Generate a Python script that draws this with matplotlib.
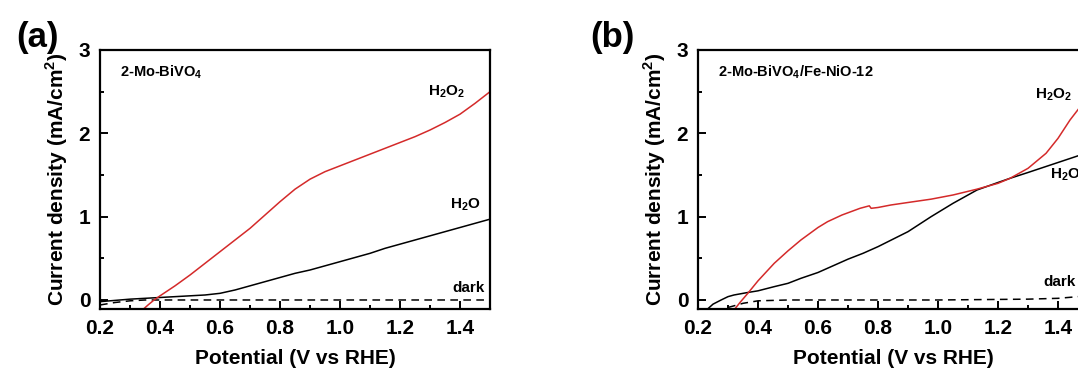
import matplotlib

matplotlib.use("Agg")
import matplotlib.pyplot as plt
from matplotlib.ticker import MultipleLocator

plt.rcParams["font.family"] = ["Liberation Sans", "DejaVu Sans"]
plt.rcParams["font.weight"] = "bold"
plt.rcParams["mathtext.fontset"] = "custom"
plt.rcParams["mathtext.rm"] = "Liberation Sans:bold"
plt.rcParams["mathtext.bf"] = "Liberation Sans:bold"

RED = "#d42a2a"

# Panel (a): 2-Mo-BiVO4
a_h2o2_v = [0.345, 0.36, 0.38, 0.40, 0.45, 0.50, 0.55, 0.60, 0.65, 0.70, 0.75,
            0.80, 0.85, 0.90, 0.95, 1.00, 1.05, 1.10, 1.15, 1.20, 1.25, 1.30,
            1.35, 1.40, 1.45, 1.50]
a_h2o2_j = [-0.108, -0.06, 0.0, 0.05, 0.17, 0.30, 0.44, 0.58, 0.72, 0.86, 1.02,
            1.18, 1.33, 1.45, 1.54, 1.61, 1.68, 1.75, 1.82, 1.89, 1.96, 2.04,
            2.13, 2.23, 2.36, 2.50]
a_h2o_v = [0.20, 0.25, 0.30, 0.35, 0.40, 0.45, 0.50, 0.55, 0.60, 0.65, 0.70,
           0.75, 0.80, 0.85, 0.90, 0.95, 1.00, 1.05, 1.10, 1.15, 1.20, 1.25,
           1.30, 1.35, 1.40, 1.45, 1.50]
a_h2o_j = [-0.02, -0.005, 0.01, 0.02, 0.03, 0.04, 0.05, 0.06, 0.08, 0.12, 0.17,
           0.22, 0.27, 0.32, 0.36, 0.41, 0.46, 0.51, 0.56, 0.62, 0.67, 0.72,
           0.77, 0.82, 0.87, 0.92, 0.97]
a_dark_v = [0.20, 0.25, 0.30, 0.35, 0.50, 1.00, 1.50]
a_dark_j = [-0.06, -0.03, -0.01, 0.0, 0.0, 0.0, 0.0]

# Panel (b): 2-Mo-BiVO4/Fe-NiO-12
b_h2o2_v = [0.32, 0.34, 0.366, 0.40, 0.454, 0.50, 0.543, 0.60, 0.632, 0.68,
            0.71, 0.74, 0.771, 0.777, 0.80, 0.843, 0.90, 0.977, 1.05, 1.13,
            1.20, 1.24, 1.30, 1.36, 1.40, 1.44, 1.47, 1.50]
b_h2o2_j = [-0.12, -0.03, 0.08, 0.23, 0.44, 0.59, 0.72, 0.87, 0.94, 1.02,
            1.06, 1.10, 1.13, 1.10, 1.11, 1.14, 1.17, 1.21, 1.26, 1.33,
            1.40, 1.46, 1.58, 1.76, 1.94, 2.16, 2.30, 2.45]
b_h2o_v = [0.232, 0.25, 0.277, 0.30, 0.32, 0.366, 0.40, 0.454, 0.50, 0.543,
           0.60, 0.65, 0.70, 0.75, 0.80, 0.85, 0.90, 0.977, 1.05, 1.13, 1.20,
           1.24, 1.30, 1.40, 1.50]
b_h2o_j = [-0.108, -0.05, 0.0, 0.04, 0.06, 0.09, 0.11, 0.16, 0.20, 0.26,
           0.33, 0.41, 0.49, 0.56, 0.64, 0.73, 0.82, 1.00, 1.16, 1.32, 1.41,
           1.46, 1.53, 1.65, 1.77]
b_dark_v = [0.30, 0.35, 0.40, 0.50, 1.00, 1.30, 1.40, 1.50]
b_dark_j = [-0.09, -0.04, -0.01, 0.0, 0.0, 0.01, 0.02, 0.05]


def label_chem(ax, x, y, text, size=11, ha="left"):
    ax.text(x, y, text, fontsize=size, fontweight="bold", ha=ha, va="center")


def style_axes(ax, xmax):
    ax.set_xlim(0.2, xmax)
    ax.set_ylim(-0.108, 3)
    ax.xaxis.set_major_locator(MultipleLocator(0.2))
    ax.xaxis.set_minor_locator(MultipleLocator(0.1))
    ax.yaxis.set_major_locator(MultipleLocator(1))
    ax.yaxis.set_minor_locator(MultipleLocator(0.5))
    ax.set_xticks([0.2, 0.4, 0.6, 0.8, 1.0, 1.2, 1.4])
    ax.set_xticklabels(["0.2", "0.4", "0.6", "0.8", "1.0", "1.2", "1.4"])
    ax.tick_params(which="both", direction="in", top=False, right=False,
                   labelsize=15, width=1.4)
    ax.tick_params(which="major", length=6, pad=7)
    ax.tick_params(which="minor", length=3)
    for lab in ax.get_xticklabels() + ax.get_yticklabels():
        lab.set_fontweight("bold")
    for sp in ax.spines.values():
        sp.set_linewidth(1.6)
    ax.set_xlabel("Potential (V vs RHE)", fontsize=15, fontweight="bold",
                  labelpad=8)
    ax.set_ylabel(r"Current density (mA/cm$^{\mathbf{2}}$)", fontsize=15,
                  fontweight="bold", labelpad=6)


fig = plt.figure(figsize=(10.78, 3.70), dpi=100)
ax_a = fig.add_axes([0.0928, 0.1649, 0.3618, 0.70])
ax_b = fig.add_axes([0.6475, 0.1649, 0.3618, 0.70])

# (a)
ax_a.plot(a_dark_v, a_dark_j, color="black", lw=1.1, ls=(0, (5, 3.5)))
ax_a.plot(a_h2o_v, a_h2o_j, color="black", lw=1.1)
ax_a.plot(a_h2o2_v, a_h2o2_j, color=RED, lw=1.1)
style_axes(ax_a, 1.5)
label_chem(ax_a, 0.267, 2.74, r"2-Mo-BiVO$_\mathbf{4}$", size=10.5)
label_chem(ax_a, 1.418, 2.50, r"H$_\mathbf{2}$O$_\mathbf{2}$", ha="right")
label_chem(ax_a, 1.468, 1.14, r"H$_\mathbf{2}$O", ha="right")
label_chem(ax_a, 1.483, 0.14, "dark", ha="right")

# (b)
ax_b.plot(b_dark_v, b_dark_j, color="black", lw=1.1, ls=(0, (5, 3.5)))
ax_b.plot(b_h2o_v, b_h2o_j, color="black", lw=1.1)
ax_b.plot(b_h2o2_v, b_h2o2_j, color=RED, lw=1.1)
style_axes(ax_b, 1.5)
label_chem(ax_b, 0.267, 2.74, r"2-Mo-BiVO$_\mathbf{4}$/Fe-NiO-12", size=10.5)
label_chem(ax_b, 1.323, 2.47, r"H$_\mathbf{2}$O$_\mathbf{2}$")
label_chem(ax_b, 1.373, 1.51, r"H$_\mathbf{2}$O")
label_chem(ax_b, 1.35, 0.21, "dark")

fig.text(0.035, 0.90, "(a)", fontsize=25, fontweight="bold",
         ha="center", va="center")
fig.text(0.568, 0.90, "(b)", fontsize=25, fontweight="bold",
         ha="center", va="center")

fig.savefig("out.png", dpi=100)
